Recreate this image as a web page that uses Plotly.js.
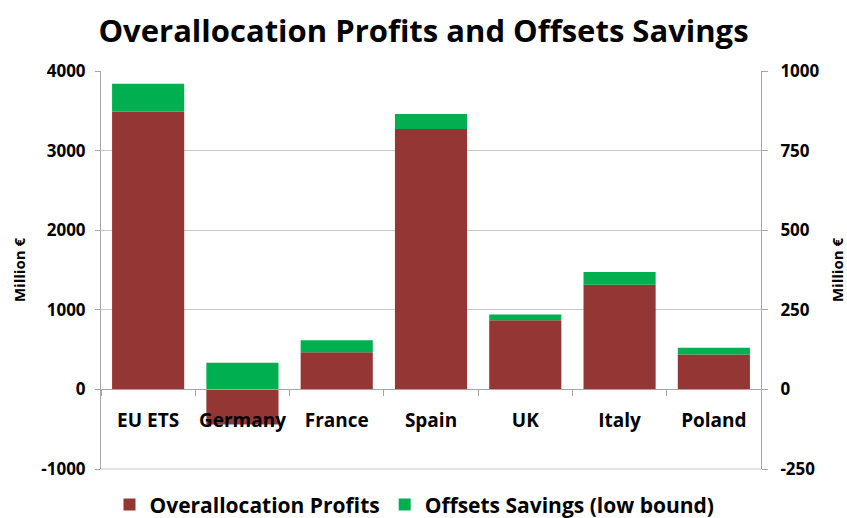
<!DOCTYPE html>
<html>
<head>
<meta charset="utf-8">
<script src="https://cdn.plot.ly/plotly-3.0.1.min.js"></script>
<style>html,body{margin:0;padding:0;background:#fff;}#chart{width:847px;height:518px;}</style>
</head>
<body>
<div id="chart"></div>
<script>
// Data (million €). EU ETS is read on the left axis, countries on the right axis.
const categories = ["EU ETS", "Germany", "France", "Spain", "UK", "Italy", "Poland"];
const overallocationProfits = [3490, -110, 117, 818, 217, 329, 110];
const offsetsSavings = [350, 84, 37, 47, 18, 40, 21];
const leftTicks = [-1000, 0, 1000, 2000, 3000, 4000];
const rightTicks = [-250, 0, 250, 500, 750, 1000];

const brown = "#943634";
const green = "#00B050";
const font = "Open Sans, DejaVu Sans, sans-serif";

const euCats = categories.slice(0, 1);
const countryCats = categories.slice(1);

const traces = [
  {type: "bar", name: "Overallocation Profits", x: euCats, y: overallocationProfits.slice(0, 1),
   marker: {color: brown}, yaxis: "y", legendgroup: "p", showlegend: true},
  {type: "bar", name: "Offsets Savings (low bound)", x: euCats, y: offsetsSavings.slice(0, 1),
   marker: {color: green}, yaxis: "y", legendgroup: "o", showlegend: true},
  {type: "bar", name: "Overallocation Profits", x: countryCats, y: overallocationProfits.slice(1),
   marker: {color: brown}, yaxis: "y2", legendgroup: "p", showlegend: false},
  {type: "bar", name: "Offsets Savings (low bound)", x: countryCats, y: offsetsSavings.slice(1),
   marker: {color: green}, yaxis: "y2", legendgroup: "o", showlegend: false}
];

const layout = {
  width: 847, height: 518,
  paper_bgcolor: "#ffffff", plot_bgcolor: "#ffffff",
  margin: {l: 101, r: 86, t: 71, b: 49, autoexpand: false},
  barmode: "relative",
  bargap: 0.235,
  font: {family: font, color: "#000"},
  title: {text: "<b>Overallocation Profits and Offsets Savings</b>",
          font: {family: font, size: 31, color: "#000"},
          x: 0.5, xanchor: "center", y: 0.94, yanchor: "middle", yref: "container"},
  xaxis: {
    type: "category", categoryorder: "array", categoryarray: categories,
    anchor: "free", position: 0.2,
    showline: true, linecolor: "#a6a6a6", linewidth: 1,
    ticks: "outside", tickson: "boundaries", ticklen: 6, tickcolor: "#a6a6a6",
    ticklabelstandoff: 14, tickangle: 0,
    showgrid: false, zeroline: false,
    tickfont: {family: font, size: 19, color: "#000", weight: "bold"}
  },
  yaxis: {
    range: [-1000, 4000], tickvals: leftTicks, ticktext: leftTicks.map(String),
    showgrid: true, gridcolor: "#c8c8c8", gridwidth: 1, zeroline: false,
    showline: true, linecolor: "#a6a6a6", linewidth: 1,
    ticks: "outside", ticklen: 5, tickcolor: "#a6a6a6",
    ticklabelstandoff: 6,
    tickfont: {family: font, size: 17, color: "#000", weight: "bold"},
    title: {text: "<b>Million €</b>", font: {family: font, size: 15, color: "#000"}, standoff: 11}
  },
  yaxis2: {
    range: [-250, 1000], tickvals: rightTicks, ticktext: rightTicks.map(String),
    overlaying: "y", side: "right", anchor: "x",
    showgrid: false, zeroline: false,
    showline: true, linecolor: "#a6a6a6", linewidth: 1,
    ticks: "outside", ticklen: 6, tickcolor: "#a6a6a6",
    ticklabelstandoff: 9,
    tickfont: {family: font, size: 17, color: "#000", weight: "bold"},
    title: {text: "<b>Million €</b>", font: {family: font, size: 15, color: "#000"}, standoff: 14}
  },
  shapes: [
    {type: "line", xref: "paper", yref: "paper", x0: 0, x1: 1, y0: 0, y1: 0,
     line: {color: "#c8c8c8", width: 1}, layer: "below"}
  ],
  legend: {
    orientation: "h", x: 0.475, xanchor: "center", y: -0.09, yanchor: "middle",
    font: {family: font, size: 21, color: "#000", weight: "bold"},
    traceorder: "normal", itemwidth: 30, bgcolor: "rgba(0,0,0,0)"
  },
  showlegend: true
};

Plotly.newPlot("chart", traces, layout, {staticPlot: true, displayModeBar: false});
</script>
</body>
</html>
